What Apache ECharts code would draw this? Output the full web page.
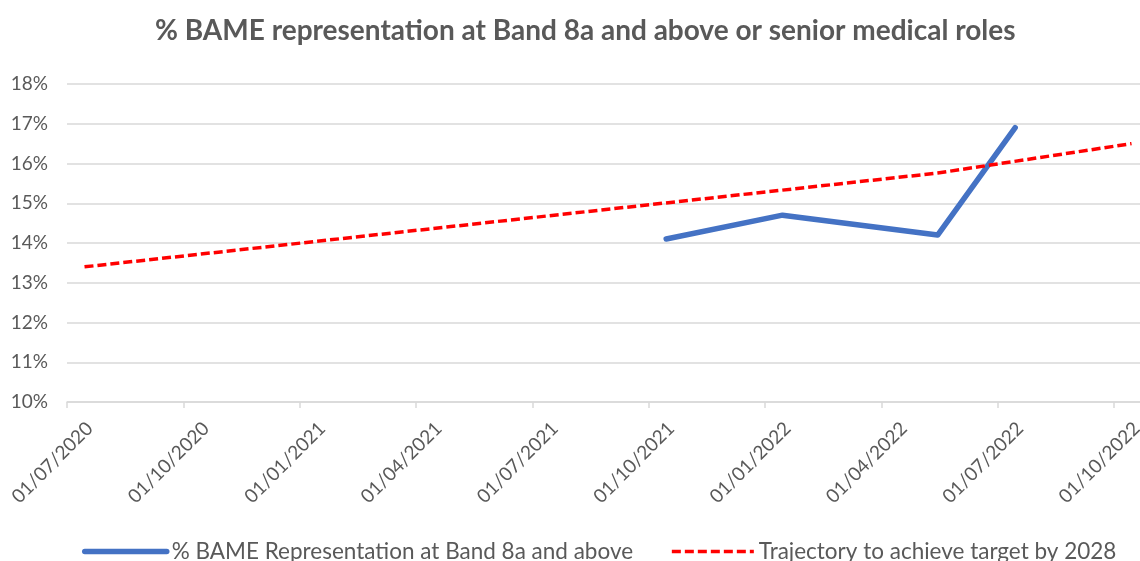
<!DOCTYPE html>
<html>
<head>
<meta charset="utf-8">
<script src="https://cdn.jsdelivr.net/npm/echarts@6/dist/echarts.min.js"></script>
<style>
  html, body { margin: 0; padding: 0; background: #fff; }
  #chart { width: 1140px; height: 561px; }
</style>
</head>
<body>
<div id="chart"></div>
<script>
// data
var bameDates = ['2021-10-15', '2022-01-15', '2022-05-15', '2022-07-15']
var bameValues = [14.1, 14.7, 14.2, 16.9]
var trajectoryDates = ['2020-07-15', '2022-05-15', '2022-10-15']
var trajectoryValues = [13.4, 15.76, 16.5]
var yTicks = [10, 11, 12, 13, 14, 15, 16, 17, 18]
var seriesNames = ['% BAME Representation at Band 8a and above', 'Trajectory to achieve target by 2028']

var TEXT = '#595959'
var FONT = 'Lato'

// x axis runs in months counted from 01/07/2020
function toMonths(s) {
  var p = s.split('-').map(Number)
  var days = new Date(p[0], p[1], 0).getDate()
  return (p[0] - 2020) * 12 + (p[1] - 7) + (p[2] - 1) / days
}
function monthLabel(v) {
  var r = Math.round(v)
  if (Math.abs(v - r) > 1e-6 || r % 3 !== 0) return ''
  var m = 7 + r
  var y = 2020 + Math.floor((m - 1) / 12)
  m = ((m - 1) % 12) + 1
  return '01/' + (m < 10 ? '0' + m : m) + '/' + y
}
function pairs(dates, values) {
  return dates.map(function (d, i) { return [toMonths(d), values[i]] })
}

var chart = echarts.init(document.getElementById('chart'))
chart.setOption({
  backgroundColor: '#fff',
  animation: false,
  title: {
    text: '% BAME representation at Band 8a and above or senior medical roles',
    left: 150,
    top: 12,
    textStyle: { color: TEXT, fontFamily: FONT, fontSize: 28, fontWeight: 'bold' }
  },
  grid: { left: 67, right: 0, top: 84, bottom: 159, outerBoundsMode: 'none', containLabel: false },
  legend: {
    top: 535,
    left: 77,
    itemWidth: 82,
    itemHeight: 14,
    itemGap: 37,
    lineStyle: { width: 'inherit' },
    itemStyle: { opacity: 0 },
    textStyle: { color: TEXT, fontFamily: FONT, fontSize: 22.5 },
    data: seriesNames
  },
  xAxis: {
    type: 'value',
    min: 0,
    max: 27.67,
    interval: 3,
    splitLine: { show: false },
    axisLine: { lineStyle: { color: '#d9d9d9', width: 1.5 } },
    axisTick: { show: true, length: 6, lineStyle: { color: '#d9d9d9', width: 1.5 } },
    axisLabel: {
      rotate: 45,
      margin: 46,
      padding: [0, -32, 0, 0],
      color: TEXT,
      fontFamily: FONT,
      fontSize: 19,
      showMaxLabel: false,
      formatter: monthLabel
    }
  },
  yAxis: {
    type: 'value',
    min: yTicks[0],
    max: yTicks[yTicks.length - 1],
    interval: 1,
    axisLine: { show: false },
    axisTick: { show: false },
    splitLine: { lineStyle: { color: '#d9d9d9', width: 1.5 } },
    axisLabel: {
      margin: 19,
      color: TEXT,
      fontFamily: FONT,
      fontSize: 19,
      formatter: '{value}%'
    }
  },
  series: [{
    name: seriesNames[0],
    type: 'line',
    symbol: 'none',
    lineStyle: { color: '#4472C4', width: 5.5, cap: 'round', join: 'round' },
    itemStyle: { color: 'rgba(0,0,0,0)' },
    data: pairs(bameDates, bameValues)
  }, {
    name: seriesNames[1],
    type: 'line',
    symbol: 'none',
    lineStyle: { color: '#ff0000', width: 3.5, type: [9, 4] },
    itemStyle: { color: 'rgba(0,0,0,0)' },
    data: pairs(trajectoryDates, trajectoryValues)
  }]
})
</script>
</body>
</html>
